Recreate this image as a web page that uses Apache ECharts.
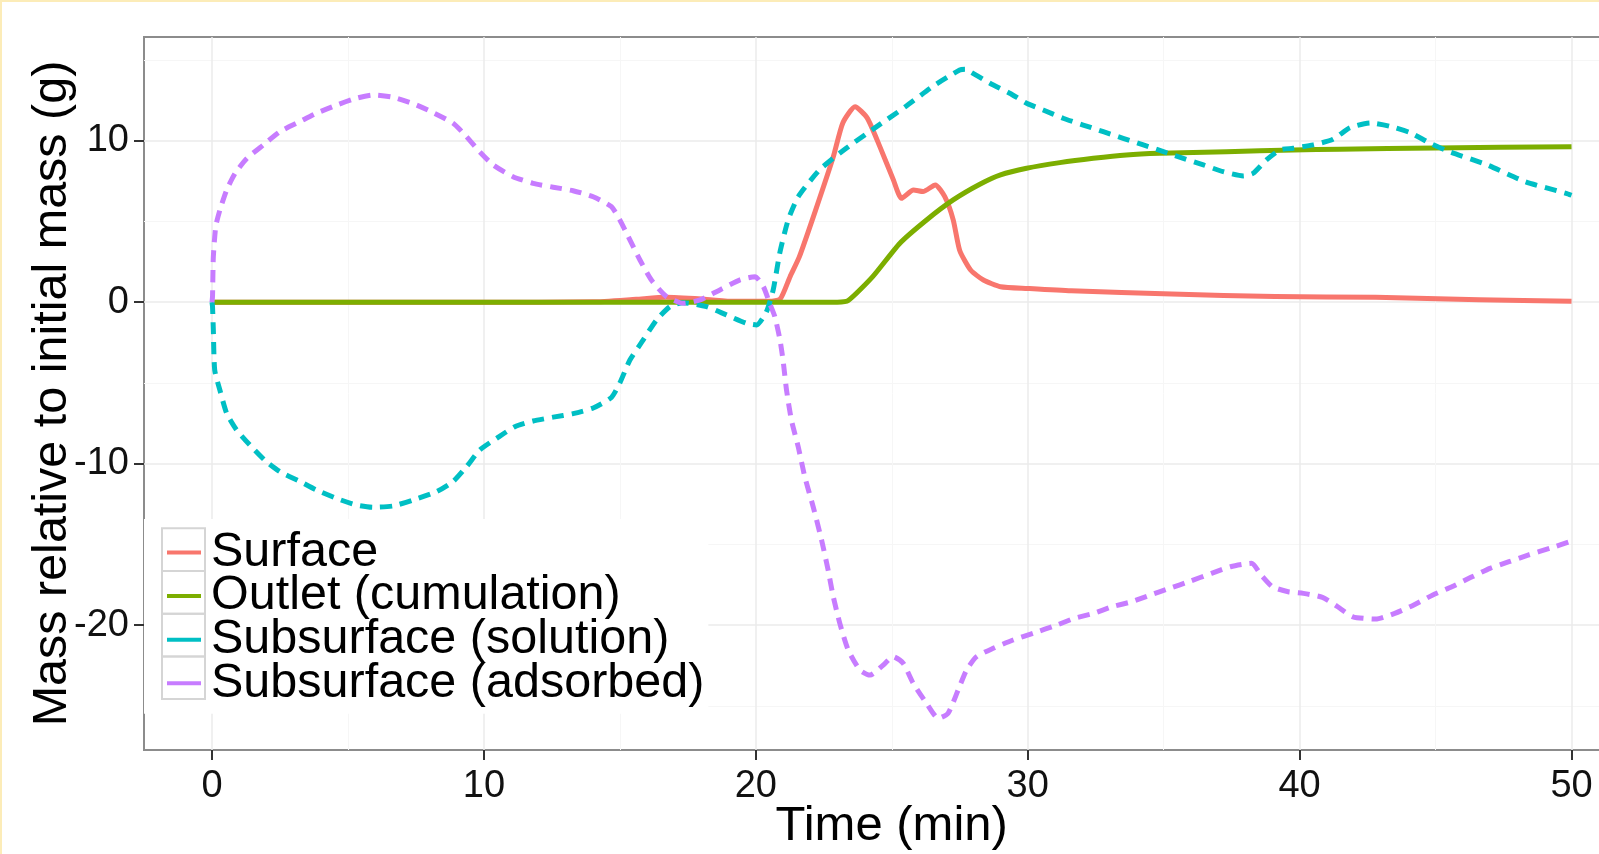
<!DOCTYPE html>
<html><head><meta charset="utf-8">
<script src="https://cdn.jsdelivr.net/npm/echarts@6/dist/echarts.min.js"></script>
<style>html,body{margin:0;padding:0;background:#fff}#c{width:1599px;height:854px}</style>
</head><body><div id="c"></div>
<script>
const xMajorTicks = [0, 10, 20, 30, 40, 50];
const xMinorTicks = [5, 15, 25, 35, 45];
const yMajorTicks = [-20, -10, 0, 10];
const yMinorTicks = [-25, -15, -5, 5, 15];
const seriesNames = ['Surface', 'Outlet (cumulation)', 'Subsurface (solution)', 'Subsurface (adsorbed)'];

const surfaceT = [0, 5, 10, 14, 15.6, 16.7, 18.2, 19.2, 20.5, 20.9, 21.26, 21.6, 22.2, 22.85, 23.2, 23.65, 24.1, 24.57, 25.06, 25.36, 25.8, 26.15, 26.6, 26.95, 27.26, 27.5, 27.9, 28.37, 29, 30, 31.6, 35.3, 39.1, 42.8, 46.6, 50];
const surfaceV = [0, 0, 0, 0.02, 0.18, 0.3, 0.17, 0.05, 0.05, 0.2, 1.58, 2.8, 5.7, 9.0, 11.1, 12.1, 11.4, 9.6, 7.57, 6.43, 6.95, 6.85, 7.26, 6.53, 5.1, 3.2, 1.99, 1.37, 0.96, 0.85, 0.7, 0.5, 0.35, 0.3, 0.15, 0.05];

const outletT = [0, 23.0, 23.4, 24.3, 25.3, 26.28, 27.26, 28.24, 29.0, 29.96, 31.18, 32.41, 33.63, 34.86, 37.31, 39.76, 41.48, 45, 50];
const outletV = [0, 0, 0.1, 1.58, 3.65, 5.09, 6.33, 7.3, 7.88, 8.29, 8.64, 8.91, 9.12, 9.22, 9.32, 9.43, 9.47, 9.55, 9.63];

const solutionT = [0, 0.02, 0.05, 0.1, 0.29, 0.54, 0.9, 1.39, 2.0, 2.5, 3.23, 3.84, 4.58, 5.31, 5.92, 6.66, 7.39, 8.26, 8.87, 9.36, 9.85, 10.47, 11.14, 11.81, 12.55, 13.28, 14.02, 14.69, 15.0, 15.37, 15.86, 16.35, 16.84, 17.33, 18.19, 18.92, 19.66, 20.03, 20.39, 20.64, 20.88, 21.19, 21.56, 22.35, 23.3, 24.3, 25.5, 26.5, 27.5, 27.7, 27.88, 28.61, 29.34, 29.96, 30.57, 31.3, 32.04, 32.78, 33.51, 34.25, 34.99, 35.72, 36.46, 37.19, 37.93, 38.29, 38.78, 39.28, 39.76, 40.5, 41.23, 41.85, 42.6, 43.3, 44.06, 44.8, 45.5, 46.9, 48.3, 49.8, 50];
const solutionV = [0, -0.28, -1.72, -4.2, -5.44, -6.88, -7.9, -8.84, -9.88, -10.5, -11.1, -11.63, -12.15, -12.56, -12.7, -12.62, -12.25, -11.73, -11.1, -10.19, -9.15, -8.43, -7.71, -7.36, -7.12, -6.9, -6.55, -5.9, -5.0, -3.58, -2.34, -1.1, -0.28, -0.03, -0.28, -0.79, -1.31, -1.41, -0.6, 0.76, 3.03, 5.09, 6.53, 8.2, 9.5, 10.7, 12.1, 13.35, 14.38, 14.42, 14.28, 13.56, 12.94, 12.32, 11.9, 11.39, 10.97, 10.56, 10.15, 9.74, 9.32, 8.91, 8.5, 8.08, 7.82, 7.98, 8.81, 9.43, 9.53, 9.74, 10.09, 10.8, 11.1, 10.9, 10.5, 9.84, 9.32, 8.5, 7.46, 6.74, 6.62];

const adsorbedT = [0, 0.02, 0.05, 0.14, 0.29, 0.54, 0.85, 1.28, 1.89, 2.5, 3.23, 3.84, 4.58, 5.31, 5.92, 6.66, 7.39, 8.06, 8.87, 9.36, 9.85, 10.34, 11.07, 11.81, 12.55, 13.28, 14.02, 14.69, 15.0, 15.31, 15.74, 16.16, 16.72, 17.33, 17.95, 18.68, 19.42, 19.97, 20.28, 20.51, 20.7, 20.89, 21.01, 21.13, 21.31, 21.56, 21.8, 22.11, 22.42, 22.66, 22.85, 23.09, 23.4, 23.83, 24.2, 24.69, 25.05, 25.42, 25.79, 26.28, 26.71, 27.07, 27.44, 27.75, 28.12, 28.73, 29.46, 30.2, 31.06, 31.71, 32.41, 33.11, 33.82, 34.52, 35.22, 35.92, 36.76, 37.46, 38.23, 38.59, 39.0, 39.58, 40.14, 40.84, 41.4, 41.96, 42.8, 43.5, 44.2, 44.9, 45.6, 46.3, 47.0, 47.7, 48.4, 49.2, 50];
const adsorbedV = [0, 0.34, 2.8, 4.7, 5.7, 6.95, 7.98, 8.9, 9.74, 10.56, 11.18, 11.7, 12.2, 12.63, 12.83, 12.69, 12.3, 11.8, 11.08, 10.25, 9.3, 8.5, 7.77, 7.36, 7.12, 6.9, 6.53, 5.91, 5.09, 4.06, 2.61, 1.37, 0.34, -0.07, 0.14, 0.76, 1.38, 1.58, 0.96, -0.07, -0.9, -2.34, -3.7, -5.44, -7.3, -8.95, -10.8, -12.67, -14.73, -16.59, -18.24, -19.89, -21.54, -22.78, -23.09, -22.47, -21.95, -22.36, -23.6, -24.84, -25.77, -25.46, -24.02, -22.78, -21.95, -21.43, -20.92, -20.5, -20.0, -19.58, -19.27, -18.86, -18.55, -18.13, -17.72, -17.31, -16.79, -16.38, -16.17, -16.9, -17.62, -17.93, -18.03, -18.28, -18.86, -19.48, -19.62, -19.27, -18.75, -18.13, -17.62, -17.04, -16.48, -16.07, -15.66, -15.24, -14.8];

const colors = ['#F8766D', '#7CAE00', '#00BFC4', '#C77CFF'];
const zip = (t, v) => t.map((x, i) => [x, v[i]]);
const FONT = 'Liberation Sans, Arial, Helvetica, sans-serif';

const chart = echarts.init(document.getElementById('c'), null, {renderer: 'canvas'});

function lineSeries(name, data, color, dashed) {
  return {
    name: name, type: 'line', data: data, symbol: 'none', showSymbol: false,
    smooth: 0.2, animation: false, z: 2,
    itemStyle: {color: color},
    lineStyle: {color: color, width: 5, type: dashed ? [12, 8] : 'solid', cap: 'butt', join: 'round'}
  };
}

const keyBoxes = [0, 1, 2, 3].map(i => ({
  type: 'rect', z: 10, silent: true,
  shape: {x: 162, y: 528.3 + i * 42.7, width: 43, height: 42.7},
  style: {fill: 'none', stroke: '#d5d5d5', lineWidth: 2}
}));

const option = {
  backgroundColor: '#ffffff',
  animation: false,
  grid: {left: 144, right: -40.5, top: 37, bottom: 104, outerBoundsMode: 'none', show: true, borderColor: '#8c8c8c', borderWidth: 2, backgroundColor: '#fff', containLabel: false},
  xAxis: [{
    type: 'value', min: -2.5, max: 52.5,
    name: 'Time (min)', nameLocation: 'middle', nameGap: 51, nameMoveOverlap: false,
    nameTextStyle: {fontSize: 49, color: '#000', fontFamily: FONT, lineHeight: 50},
    axisLine: {show: false, onZero: false},
    axisTick: {show: true, length: 10, customValues: xMajorTicks, lineStyle: {color: '#333', width: 2}},
    axisLabel: {customValues: xMajorTicks, fontSize: 38, color: '#111', fontFamily: FONT, margin: 17, lineHeight: 40},
    splitLine: {show: true, lineStyle: {color: '#ebebeb', width: 1.5}}
  }, {
    type: 'value', min: -2.5, max: 52.5, position: 'bottom',
    axisLine: {show: false, onZero: false},
    axisTick: {show: false, customValues: xMinorTicks},
    axisLabel: {show: false, customValues: xMinorTicks},
    splitLine: {show: true, lineStyle: {color: '#f6f6f6', width: 1}}
  }],
  yAxis: [{
    type: 'value', min: -27.73, max: 16.42,
    name: 'Mass relative to initial mass (g)', nameLocation: 'middle', nameGap: 66, nameMoveOverlap: false,
    nameTextStyle: {fontSize: 48.5, color: '#000', fontFamily: FONT, lineHeight: 50},
    axisLine: {show: false, onZero: false},
    axisTick: {show: true, length: 10, customValues: yMajorTicks, lineStyle: {color: '#333', width: 2}},
    axisLabel: {customValues: yMajorTicks, fontSize: 38, color: '#111', fontFamily: FONT, margin: 15},
    splitLine: {show: true, lineStyle: {color: '#ebebeb', width: 1.5}}
  }, {
    type: 'value', min: -27.73, max: 16.42, position: 'left',
    axisLine: {show: false, onZero: false},
    axisTick: {show: false, customValues: yMinorTicks},
    axisLabel: {show: false, customValues: yMinorTicks},
    splitLine: {show: true, lineStyle: {color: '#f6f6f6', width: 1}}
  }],
  legend: {
    orient: 'vertical', left: 144, top: 519,
    padding: [9, 4, 6, 23], itemGap: -5.4,
    backgroundColor: '#ffffff',
    itemWidth: 34, itemHeight: 4, icon: 'rect',
    itemStyle: {borderWidth: 0},
    selectedMode: false,
    textStyle: {fontSize: 48.5, color: '#000', fontFamily: FONT, padding: [0, 0, 0, 5]},
    data: seriesNames
  },
  series: [
    lineSeries(seriesNames[0], zip(surfaceT, surfaceV), colors[0], false),
    lineSeries(seriesNames[1], zip(outletT, outletV), colors[1], false),
    lineSeries(seriesNames[2], zip(solutionT, solutionV), colors[2], true),
    lineSeries(seriesNames[3], zip(adsorbedT, adsorbedV), colors[3], true)
  ],
  graphic: keyBoxes.concat([
    {type: 'line', z: 20, silent: true, shape: {x1: 0, y1: 1, x2: 1599, y2: 1}, style: {stroke: '#fcecb8', lineWidth: 2}},
    {type: 'line', z: 20, silent: true, shape: {x1: 1, y1: 0, x2: 1, y2: 854}, style: {stroke: '#fcecb8', lineWidth: 2}}
  ])
};
chart.setOption(option);
</script>
</body></html>
